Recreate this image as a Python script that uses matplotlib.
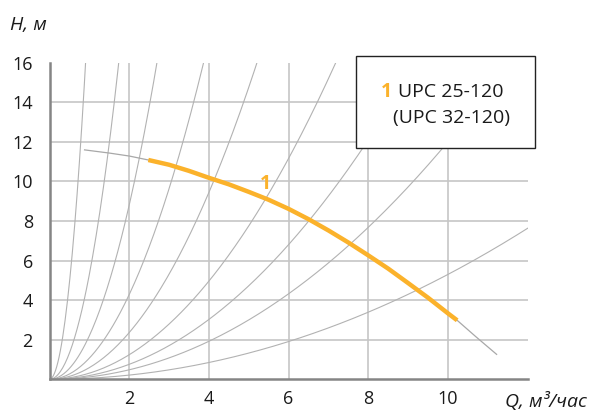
import numpy as np
import matplotlib
matplotlib.use("Agg")
import matplotlib.pyplot as plt
from matplotlib.patches import Rectangle

plt.rcParams['font.family'] = ['Open Sans', 'DejaVu Sans']

system_k = [19.5, 5.3, 2.2, 1.07, 0.59, 0.31, 0.189, 0.12, 0.053]

# pump curve (Q in m3/h, H in m)
pump_q = [0.88, 1.5, 2.0, 2.48, 3.0, 3.5, 4.0, 4.5, 5.0, 5.5, 6.0, 6.5, 7.0, 7.5,
          8.0, 8.5, 9.0, 9.5, 10.0, 10.23, 10.7, 11.22]
pump_h = [11.59, 11.43, 11.28, 11.08, 10.84, 10.53, 10.18, 9.85, 9.47, 9.07, 8.61,
          8.09, 7.52, 6.91, 6.26, 5.59, 4.86, 4.12, 3.33, 2.98, 2.15, 1.26]
work_from, work_to = 2.48, 10.23  # highlighted part of the curve

x_ticks = [2, 4, 6, 8, 10]
y_ticks = [2, 4, 6, 8, 10, 12, 14, 16]

ORANGE = "#fbb22b"
GRID = "#c6c6c6"
AXIS = "#858585"

fig = plt.figure(figsize=(5.91, 4.12), dpi=100)
ax = fig.add_axes([49.5 / 591, 32.7 / 412, 478.2 / 591, 316.7 / 412])
ax.set_xlim(0, 12)
ax.set_ylim(0, 16)

for x in x_ticks:
    ax.axvline(x, color=GRID, lw=1.2, zorder=1)
for y in y_ticks[:-1]:
    ax.axhline(y, color=GRID, lw=1.2, zorder=1)

q = np.linspace(0, 12, 400)
for k in system_k:
    ax.plot(q, k * q ** 2, color="#b2b2b2", lw=0.8, zorder=2)

ax.plot(pump_q, pump_h, color="#a8a8a8", lw=0.9, zorder=3)
qa = np.array(pump_q)
sel = (qa >= work_from) & (qa <= work_to)
ax.plot(qa[sel], np.array(pump_h)[sel], color=ORANGE, lw=3.2,
        solid_capstyle="butt", solid_joinstyle="round", zorder=4)
ax.text(5.43, 9.89, "1", color=ORANGE, fontsize=14, fontweight="bold",
        ha="center", va="center", zorder=5)

for s in ["top", "right"]:
    ax.spines[s].set_visible(False)
for s in ["left", "bottom"]:
    ax.spines[s].set_color(AXIS)
    ax.spines[s].set_linewidth(1.8)
    ax.spines[s].set_zorder(6)

ax.set_xticks(x_ticks)
ax.set_yticks(y_ticks)
ax.tick_params(length=0, labelsize=13, colors="#1a1a1a")
ax.tick_params(axis="y", pad=12)
ax.tick_params(axis="x", pad=8)

fig.text(10 / 591, 1 - 30 / 412, "H, м", fontsize=14, style="italic",
         color="#1a1a1a", va="baseline")
fig.text(587 / 591, 1 - 407 / 412, "Q, м³/час", fontsize=14, style="italic",
         color="#1a1a1a", va="baseline", ha="right")

# legend box
fig.patches.append(Rectangle((355.7 / 591, 1 - 148 / 412), 179.3 / 591, 92 / 412,
                             transform=fig.transFigure, facecolor="white",
                             edgecolor="#222222", lw=1.0, zorder=10))
fig.text(381 / 591, 1 - 96.7 / 412, "1", color=ORANGE, fontsize=14,
         fontweight="bold", va="baseline", zorder=11)
fig.text(398 / 591, 1 - 96.7 / 412, "UPC 25-120", color="#1a1a1a", fontsize=14,
         va="baseline", zorder=11)
fig.text(392.7 / 591, 1 - 123 / 412, "(UPC 32-120)", color="#1a1a1a", fontsize=14,
         va="baseline", zorder=11)

fig.savefig("out.png", dpi=100)
